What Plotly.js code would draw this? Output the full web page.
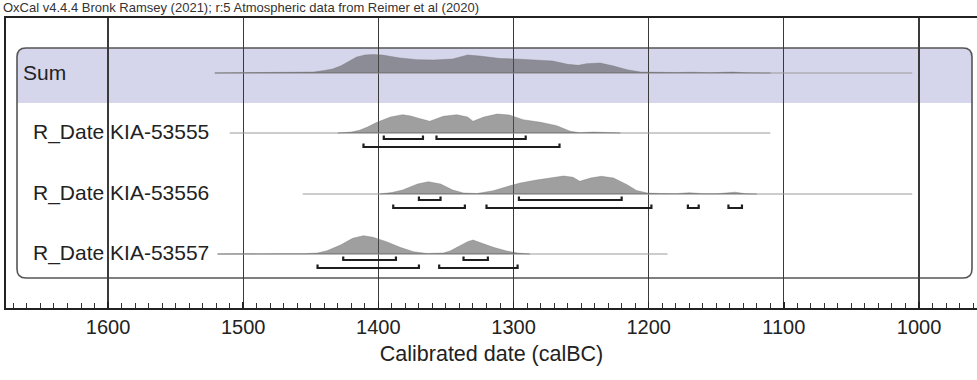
<!DOCTYPE html>
<html><head><meta charset="utf-8">
<script src="https://cdn.plot.ly/plotly-3.0.1.min.js"></script>
<style>html,body{margin:0;padding:0;background:#fff;}#chart{width:977px;height:380px;}</style>
</head><body><div id="chart"></div>
<script>
// ---------------- DATA ----------------
const headerText = "OxCal v4.4.4 Bronk Ramsey (2021); r:5 Atmospheric data from Reimer et al (2020)";
const axisTitle = "Calibrated date (calBC)";
const rowLabels = ["Sum", "R_Date KIA-53555", "R_Date KIA-53556", "R_Date KIA-53557"];
const tickVals = [1600, 1500, 1400, 1300, 1200, 1100, 1000];

// calibrated probability distributions (year calBC, relative probability)
const sumYears = [1521,1500,1490,1480,1460,1448,1440,1434,1428,1423,1416,1410,1404,1397,1390,1384,1371,1359,1345,1334,1325,1317,1310,1295,1283,1271,1260,1252,1246,1236,1226,1216,1206,1195,1180,1167,1155,1138,1128,1110];
const sumProb  = [0,0.3,0.7,0.3,0.5,1,2.5,4,7,11,16,18,18.5,18,16.5,15,13.3,13,14,18,17,15.5,14.5,13.8,13,12,8.7,7.7,9.3,10,7,3.3,1,0.5,0.5,0.8,0.3,1,0.2,0];
const sumExtent = [1521, 1005];

const r55Years = [1430,1420,1414,1408,1401,1391,1382,1376,1371,1362,1352,1342,1334,1330,1322,1312,1303,1293,1280,1268,1258,1251,1241,1232,1221];
const r55Prob  = [0,1,2.7,6,10.7,16,18.3,17,15,11.7,16.7,18.3,16,11.7,16,19,18,13.3,10.7,7.3,1.7,0.3,1,0.5,0];
const r55Extent = [1510, 1110];
const r55Range68 = [[1396,1367],[1357,1291]];
const r55Range95 = [[1411,1266]];

const r56Years = [1399,1390,1382,1376,1371,1363,1354,1345,1337,1327,1315,1305,1295,1283,1273,1263,1256,1251,1243,1235,1226,1216,1209,1201,1192,1180,1170,1160,1150,1136,1128,1120];
const r56Prob  = [0,1.5,4,7,10,12.3,10,4,1,0.5,3.3,7.3,11,14,16,18,16.7,12.7,16,17.7,16,9.3,3.5,1,0.5,0.3,1.3,0.3,0.2,1.8,0.2,0];
const r56Extent = [1456, 1005];
const r56Range68 = [[1370,1354],[1296,1220]];
const r56Range95 = [[1389,1336],[1320,1198],[1171,1163],[1141,1131]];

const r57Years = [1519,1500,1488,1475,1455,1445,1438,1428,1419,1411,1404,1394,1384,1374,1364,1356,1352,1347,1342,1334,1330,1323,1315,1305,1297,1288];
const r57Prob  = [0,0.2,0.7,0.2,0.2,1,3.3,9,15.7,18.3,16.7,12.3,6.7,2.3,0.5,0.5,1,3,6.7,12.3,14,10.7,6.7,3,1,0];
const r57Extent = [1519, 1186];
const r57Range68 = [[1426,1387],[1337,1319]];
const r57Range95 = [[1445,1370],[1355,1297]];

// ---------------- LAYOUT / STYLE ----------------
const W = 977, H = 380, ML = 6, MR = 0, MT = 18, MB = 72;
const xRange = [1675.5, 957.1];
const rowBase = [73, 133, 194, 254];   // baseline pixel rows
const probScale = 1.0;                  // px per probability unit
const off68 = 6, off95 = 14, cap = 3.5;
const fillCol = 'rgba(80,80,80,0.55)';
const px2paper = p => (p - ML) / (W - ML - MR);

const series = [
  {yrs: sumYears, p: sumProb, ext: sumExtent, r68: [], r95: []},
  {yrs: r55Years, p: r55Prob, ext: r55Extent, r68: r55Range68, r95: r55Range95},
  {yrs: r56Years, p: r56Prob, ext: r56Extent, r68: r56Range68, r95: r56Range95},
  {yrs: r57Years, p: r57Prob, ext: r57Extent, r68: r57Range68, r95: r57Range95}
];

const traces = [];
series.forEach((s, i) => {
  const b = rowBase[i];
  traces.push({x: s.ext, y: [b, b], mode: 'lines', line: {color: '#9a9a9a', width: 1}, hoverinfo: 'skip', showlegend: false});
  const xs = s.yrs.concat(s.yrs.slice().reverse());
  const ys = s.p.map(v => b - v * probScale).concat(s.yrs.map(() => b));
  traces.push({x: xs, y: ys, mode: 'lines', fill: 'toself', fillcolor: fillCol, line: {color: 'rgba(110,110,110,0.6)', width: 0.6}, hoverinfo: 'skip', showlegend: false});
  const bx = [], by = [];
  const add = (rs, off) => rs.forEach(r => {
    bx.push(r[0], r[0], r[1], r[1], null);
    by.push(b + off - cap, b + off, b + off, b + off - cap, null);
  });
  add(s.r68, off68); add(s.r95, off95);
  if (bx.length) traces.push({x: bx, y: by, mode: 'lines', line: {color: '#1e1e1e', width: 2.2}, hoverinfo: 'skip', showlegend: false});
});

const bx0 = px2paper(17), bx1 = px2paper(972), rr = 9, rx = rr / (W - ML - MR);
const boxTop = 48, boxBot = 278, bandBot = 103;
const boxPath = `M ${bx0},${boxTop + rr} Q ${bx0},${boxTop} ${bx0 + rx},${boxTop} L ${bx1 - rx},${boxTop} Q ${bx1},${boxTop} ${bx1},${boxTop + rr} L ${bx1},${boxBot - rr} Q ${bx1},${boxBot} ${bx1 - rx},${boxBot} L ${bx0 + rx},${boxBot} Q ${bx0},${boxBot} ${bx0},${boxBot - rr} Z`;
const bandPath = `M ${bx0},${bandBot} L ${bx0},${boxTop + rr} Q ${bx0},${boxTop} ${bx0 + rx},${boxTop} L ${bx1 - rx},${boxTop} Q ${bx1},${boxTop} ${bx1},${boxTop + rr} L ${bx1},${bandBot} Z`;

const annotations = rowLabels.map((t, i) => ({
  text: t, xref: 'paper', yref: 'y', x: px2paper(i === 0 ? 21 : 31), y: rowBase[i] - 1,
  xanchor: 'left', yanchor: 'middle', showarrow: false,
  font: {family: 'Liberation Sans, Arial, sans-serif', size: 21, color: '#222'}
}));
annotations.push({
  text: headerText, xref: 'paper', yref: 'paper', x: px2paper(1), y: 1 + (MT - 8) / (H - MT - MB),
  xanchor: 'left', yanchor: 'middle', showarrow: false,
  font: {family: 'Liberation Sans, Arial, sans-serif', size: 13, color: '#333'}
});

const layout = {
  width: W, height: H,
  margin: {l: ML, r: MR, t: MT, b: MB, pad: 0},
  paper_bgcolor: '#fff', plot_bgcolor: 'rgba(0,0,0,0)',
  showlegend: false,
  font: {family: 'Liberation Sans, Arial, sans-serif', color: '#222'},
  xaxis: {
    range: xRange, tickvals: tickVals, ticktext: tickVals.map(String),
    showgrid: true, gridcolor: '#3a3a3a', gridwidth: 1.2,
    showline: true, linecolor: '#222', linewidth: 2, mirror: true,
    ticks: 'inside', ticklen: 6, tickcolor: '#222', tickwidth: 1.5,
    minor: {dtick: 10, tick0: 1000, ticks: 'inside', ticklen: 5, tickcolor: '#333', tickwidth: 1, showgrid: false},
    tickfont: {family: 'Liberation Sans, Arial, sans-serif', size: 20, color: '#222'},
    title: {text: axisTitle, font: {family: 'Liberation Sans, Arial, sans-serif', size: 21.5, color: '#222'}, standoff: 9},
    zeroline: false, fixedrange: true
  },
  yaxis: {
    range: [308, 18], showgrid: false, zeroline: false, showticklabels: false, ticks: '',
    showline: true, linecolor: '#222', linewidth: 2, fixedrange: true
  },
  shapes: [
    {type: 'path', path: bandPath, xref: 'paper', yref: 'y', fillcolor: '#d5d6ec', line: {width: 0}, layer: 'below'},
    {type: 'path', path: boxPath, xref: 'paper', yref: 'y', fillcolor: 'rgba(0,0,0,0)', line: {color: '#555', width: 1.6}, layer: 'below'}
  ],
  annotations: annotations
};

Plotly.newPlot('chart', traces, layout, {staticPlot: true, displayModeBar: false});
</script></body></html>
